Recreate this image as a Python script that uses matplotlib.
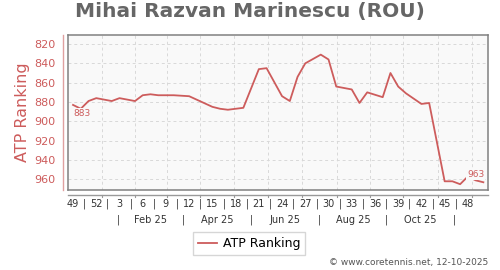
import matplotlib.pyplot as plt
from matplotlib.lines import Line2D

# weeks since week 49/2024 and ATP ranking at each vertex of the line
weeks = [0, 1, 2, 3, 5, 6, 8, 9, 10, 11, 13, 15, 18, 19, 20, 22, 24, 25, 27, 28, 29, 30,
         32, 33, 34, 36, 37, 38, 40, 41, 42, 43, 45, 46, 48, 49, 50, 51, 52, 53]
ranks = [883, 887, 879, 876, 879, 876, 879, 873, 872, 873, 873, 874, 885, 887, 888, 886, 846, 845,
         874, 879, 854, 840, 831, 836, 864, 867, 881, 870, 875, 850, 864, 871, 882, 881,
         962, 962, 965, 957, 961, 963]

week_labels = ['49', '52', '3', '6', '9', '12', '15', '18', '21', '24', '27', '30',
               '33', '36', '39', '42', '45', '48']
# month starts (in weeks), used for grid and small ticks
month_ticks = [3.74, 8.0, 12.14, 16.4, 20.8, 25.2, 29.6, 34.1, 38.3, 42.6, 47.1, 51.5]
month_labels = ['Feb 25', 'Apr 25', 'Jun 25', 'Aug 25', 'Oct 25']
y_ticks = [820, 840, 860, 880, 900, 920, 940, 960]

red = '#cd5c5c'
gray = '#808080'

fig = plt.figure(figsize=(5, 2.7), dpi=100)
ax = fig.add_axes([68 / 500, 1 - 190 / 270, 420 / 500, 155 / 270])
ax.set_facecolor('#f9f9f9')
ax.plot(weeks, ranks, color=red, lw=1.3, label='ATP Ranking')

ax.set_xlim(-0.65, 53.6)
ax.set_ylim(971, 810.7)
ax.set_yticks(y_ticks)
ax.set_xticks(month_ticks)
ax.set_xticklabels([])
ax.tick_params(axis='both', length=0)
ax.tick_params(axis='y', labelcolor=red, labelsize=8, pad=9)
ax.grid(True, color='#d8d8d8', ls=(0, (3, 3)), lw=0.7)
for s in ax.spines.values():
    s.set_color(gray)
    s.set_linewidth(1.1)

ax.set_ylabel('ATP Ranking', color=red, fontsize=11.5, labelpad=3)

# end labels
ax.text(weeks[0], ranks[0] + 4, str(ranks[0]), color=red, fontsize=6.5, ha='left', va='top',
        bbox=dict(facecolor='#f9f9f9', edgecolor='none', pad=0.5))
ax.text(weeks[-1] + 0.1, ranks[-1] - 3, str(ranks[-1]), color=red, fontsize=6.5, ha='right',
        va='bottom', bbox=dict(facecolor='#f9f9f9', edgecolor='none', pad=0.5))

# pink y axis line
fig.add_artist(Line2D([63 / 500, 63 / 500], [1 - 190 / 270, 1 - 35 / 270],
                      transform=fig.transFigure, color='#e0a0a0', lw=1))

# lower x axis line with month ticks
xt = ax.get_xaxis_transform()
ax.plot([-0.65, 53.6], [-0.032, -0.032], color='#999999', lw=1, transform=xt, clip_on=False)
for m in month_ticks:
    ax.plot([m, m], [-0.032, -0.045], color='#999999', lw=0.8, transform=xt, clip_on=False)

label_pos = [3 * i for i in range(len(week_labels))]
for p, lab in zip(label_pos, week_labels):
    ax.text(p, -0.09, lab, transform=xt, ha='center', va='center', fontsize=7, color='#333333')
for a, b in zip(label_pos[:-1], label_pos[1:]):
    ax.text((a + b) / 2, -0.09, '|', transform=xt, ha='center', va='center', fontsize=7,
            color='#333333')

seps = [(month_ticks[i] + month_ticks[i + 1]) / 2 for i in range(0, len(month_ticks), 2)]
for s in seps:
    ax.text(s, -0.195, '|', transform=xt, ha='center', va='center', fontsize=7, color='#333333')
for a, b, lab in zip(seps[:-1], seps[1:], month_labels):
    ax.text((a + b) / 2, -0.195, lab, transform=xt, ha='center', va='center', fontsize=7,
            color='#333333')

fig.text(0.5, 1 - 12 / 270, 'Mihai Razvan Marinescu (ROU)', ha='center', va='center',
         fontsize=14.5, fontweight='bold', color='#666666')

fig.legend(loc='center', bbox_to_anchor=(249 / 500, 1 - 243.5 / 270), fontsize=9,
           frameon=True, fancybox=False, edgecolor='#cccccc', handlelength=1.5,
           borderpad=0.4, handletextpad=0.5)
fig.text(488 / 500, 1 - 263 / 270, '\u00a9 www.coretennis.net, 12-10-2025', ha='right',
         va='center', fontsize=6.5, color='#555555')

fig.savefig('out.png', dpi=100)
